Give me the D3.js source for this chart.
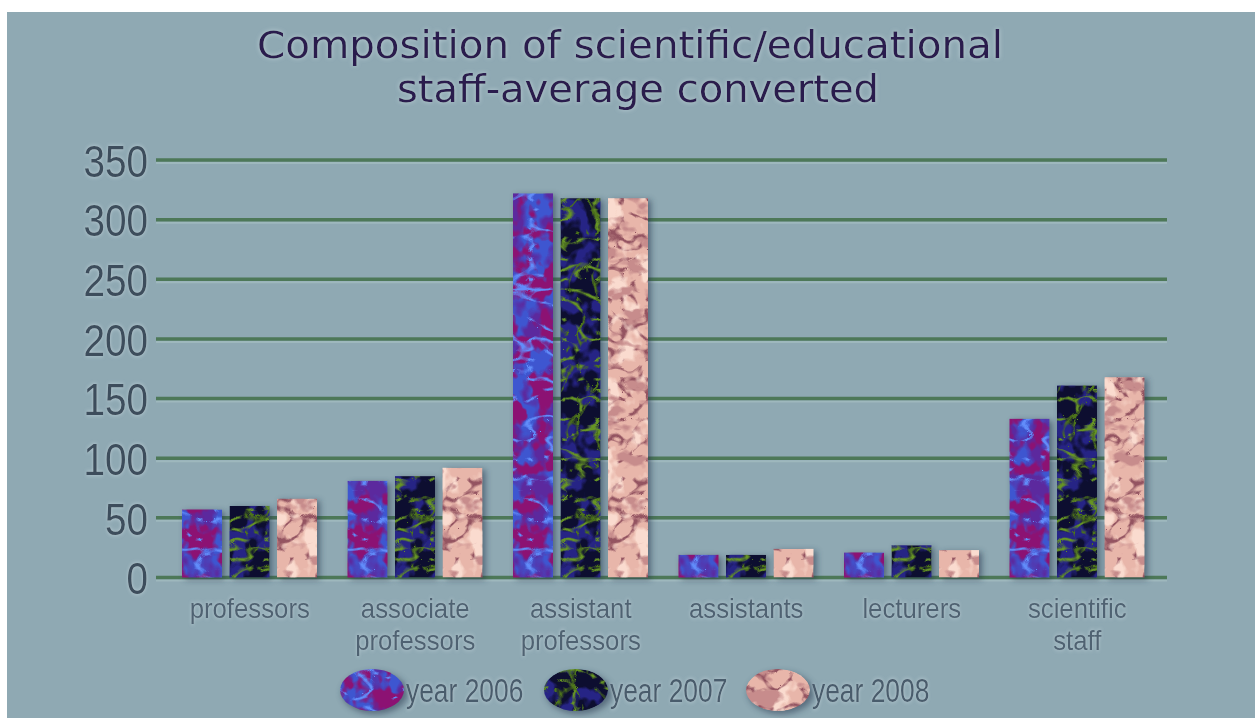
<!DOCTYPE html>
<html>
<head>
<meta charset="utf-8">
<script src="https://cdn.jsdelivr.net/npm/d3@7"></script>
<style>
  html, body { margin: 0; padding: 0; background: #ffffff; }
  svg { display: block; }
</style>
</head>
<body>
<svg id="chart" width="1255" height="718"></svg>
<script>
// ---- data ----
const categories = [["professors"], ["associate", "professors"], ["assistant", "professors"], ["assistants"], ["lecturers"], ["scientific", "staff"]];
const years = ["year 2006", "year 2007", "year 2008"];
const values2006 = [57, 81, 322, 19, 21, 133];
const values2007 = [60, 85, 318, 19, 27, 161];
const values2008 = [66, 92, 318, 24, 23, 168];
const yTicks = [0, 50, 100, 150, 200, 250, 300, 350];
const titleLines = ["Composition of scientific/educational", "staff-average converted"];

const series = [values2006, values2007, values2008];
const catKeys = categories.map(c => c.join(" "));
const NARROW = "Liberation Sans, Arial, sans-serif";

const svg = d3.select("#chart");
const W = 1255, H = 718;

// background
svg.append("rect").attr("x", 7).attr("y", 12).attr("width", W - 7).attr("height", H - 12).attr("fill", "#8fa9b3");

const defs = svg.append("defs");

// textures via turbulence filters
const textures = [
  { id: "tex0", base: "#3e56d0", layers: [
      { type: "fractalNoise", freq: "0.04 0.03", oct: 3, seed: 3, color: [0.36, 0.16, 0.62], k: 7, c: -3.2 },
      { type: "fractalNoise", freq: "0.05 0.04", oct: 3, seed: 8, color: [0.55, 0.07, 0.45], k: 9, c: -4.3 },
      { type: "turbulence", freq: "0.03 0.05", oct: 2, seed: 11, color: [0.38, 0.55, 0.98], k: -9, c: 1.3 }
  ]},
  { id: "tex1", base: "#0d0e30", layers: [
      { type: "fractalNoise", freq: "0.05 0.04", oct: 3, seed: 7, color: [0.15, 0.14, 0.52], k: 8, c: -3.7 },
      { type: "turbulence", freq: "0.03 0.05", oct: 2, seed: 5, color: [0.40, 0.58, 0.14], k: -9, c: 1.35 },
      { type: "turbulence", freq: "0.05 0.03", oct: 2, seed: 15, color: [0.30, 0.45, 0.10], k: -10, c: 1.15 }
  ]},
  { id: "tex2", base: "#e8b6aa", layers: [
      { type: "turbulence", freq: "0.04 0.05", oct: 2, seed: 9, color: [0.58, 0.33, 0.38], k: -8, c: 1.4 },
      { type: "fractalNoise", freq: "0.05 0.04", oct: 3, seed: 4, color: [0.98, 0.86, 0.81], k: 8, c: -4.2 },
      { type: "fractalNoise", freq: "0.04 0.06", oct: 3, seed: 21, color: [0.78, 0.55, 0.55], k: 8, c: -4.4 }
  ]}
];
textures.forEach(t => {
  const f = defs.append("filter").attr("id", t.id)
    .attr("x", 0).attr("y", 0).attr("width", 1).attr("height", 1)
    .attr("color-interpolation-filters", "sRGB");
  t.layers.forEach((l, i) => {
    f.append("feTurbulence").attr("type", l.type).attr("baseFrequency", l.freq)
      .attr("numOctaves", l.oct).attr("seed", l.seed).attr("result", "n" + i);
    f.append("feColorMatrix").attr("in", "n" + i).attr("type", "matrix")
      .attr("values", `0 0 0 0 ${l.color[0]} 0 0 0 0 ${l.color[1]} 0 0 0 0 ${l.color[2]} ${l.k} 0 0 0 ${l.c}`)
      .attr("result", "l" + i);
  });
  const m = f.append("feMerge").attr("result", "m");
  m.append("feMergeNode").attr("in", "SourceGraphic");
  t.layers.forEach((l, i) => m.append("feMergeNode").attr("in", "l" + i));
  f.append("feComposite").attr("in", "m").attr("in2", "SourceAlpha").attr("operator", "in");
});

defs.append("filter").attr("id", "shadow").attr("x", -0.5).attr("y", -0.5).attr("width", 2).attr("height", 2)
  .append("feGaussianBlur").attr("stdDeviation", 3);

const glow = defs.append("filter").attr("id", "glow").attr("x", -0.1).attr("y", -0.3).attr("width", 1.2).attr("height", 1.6);
glow.append("feGaussianBlur").attr("in", "SourceAlpha").attr("stdDeviation", 2).attr("result", "b");
glow.append("feFlood").attr("flood-color", "#d8e6ee").attr("flood-opacity", 0.6);
glow.append("feComposite").attr("in2", "b").attr("operator", "in").attr("result", "g");
const gm = glow.append("feMerge");
gm.append("feMergeNode").attr("in", "g");
gm.append("feMergeNode").attr("in", "SourceGraphic");

// scales
const y = d3.scaleLinear().domain([0, 350]).range([577.5, 160]);
const x0 = d3.scaleBand().domain(catKeys).range([167, 1160]).padding(0);
const x1 = d3.scaleBand().domain(years).range([15, 150]).paddingInner(0.158).paddingOuter(0);

// title
const title = svg.append("g").attr("filter", "url(#glow)");
title.append("text").attr("x", 630).attr("y", 58).attr("text-anchor", "middle")
  .attr("font-family", "DejaVu Sans, sans-serif").attr("font-size", 37).attr("fill", "#2c1d4e")
  .attr("textLength", 746).attr("lengthAdjust", "spacingAndGlyphs").text(titleLines[0]);
title.append("text").attr("x", 638).attr("y", 101.5).attr("text-anchor", "middle")
  .attr("font-family", "DejaVu Sans, sans-serif").attr("font-size", 37).attr("fill", "#2c1d4e")
  .attr("textLength", 482).attr("lengthAdjust", "spacingAndGlyphs").text(titleLines[1]);

// gridlines
const grid = svg.append("g");
grid.selectAll("line.hl").data(yTicks).join("line").attr("class", "hl")
  .attr("x1", 156).attr("x2", 1167).attr("y1", d => y(d) + 3).attr("y2", d => y(d) + 3)
  .attr("stroke", "#a9c2c4").attr("stroke-width", 2).attr("opacity", 0.6);
grid.selectAll("line.gl").data(yTicks).join("line").attr("class", "gl")
  .attr("x1", 156).attr("x2", 1167).attr("y1", d => y(d)).attr("y2", d => y(d))
  .attr("stroke", "#4d7858").attr("stroke-width", 3.5);

// y axis labels (condensed)
const yAxis = svg.append("g").attr("transform", "translate(148,0)")
  .call(d3.axisLeft(y).tickValues(yTicks).tickSize(0).tickPadding(0).tickFormat(d3.format("d")));
yAxis.select(".domain").remove();
yAxis.selectAll("text")
  .attr("font-family", NARROW)
  .attr("font-size", 45).attr("fill", "#3c4d5b").attr("dy", "0.36em").attr("x", 0)
  .attr("transform", "scale(0.86,1)")
  .attr("filter", "url(#glow)");

// bars
const groups = svg.append("g").selectAll("g").data(catKeys).join("g")
  .attr("transform", d => `translate(${x0(d)},0)`);
groups.each(function(cat, ci) {
  const g = d3.select(this);
  years.forEach((yr, si) => {
    const v = series[si][ci];
    g.append("rect").attr("x", x1(yr) + 3).attr("y", y(v) + 2)
      .attr("width", x1.bandwidth()).attr("height", y(0) - y(v))
      .attr("fill", "#23324a").attr("opacity", 0.55).attr("filter", "url(#shadow)");
  });
  years.forEach((yr, si) => {
    const v = series[si][ci];
    g.append("rect").attr("x", x1(yr)).attr("y", y(v))
      .attr("width", x1.bandwidth()).attr("height", y(0) - y(v))
      .attr("fill", textures[si].base).attr("filter", `url(#${textures[si].id})`);
  });
});

// category labels (condensed), one text per line
const catG = svg.append("g").selectAll("g").data(categories).join("g")
  .attr("transform", (d, i) => `translate(${x0(catKeys[i]) + x0.bandwidth() / 2},618)`);
catG.each(function(d) {
  const g = d3.select(this);
  d.forEach((line, li) => {
    g.append("text").attr("x", 0).attr("y", li * 32.5).attr("text-anchor", "middle")
      .attr("transform", "scale(0.92,1)")
      .attr("font-family", NARROW)
      .attr("font-size", 28).attr("fill", "#4f6272").attr("filter", "url(#glow)")
      .text(line);
  });
});

// legend
const legendX = [372, 576, 778];
const legend = svg.append("g").selectAll("g").data(years).join("g")
  .attr("transform", (d, i) => `translate(${legendX[i]},690)`);
legend.append("ellipse").attr("cx", 3).attr("cy", 3).attr("rx", 33).attr("ry", 21)
  .attr("fill", "#23324a").attr("opacity", 0.5).attr("filter", "url(#shadow)");
legend.append("ellipse").attr("rx", 32).attr("ry", 21)
  .attr("fill", (d, i) => textures[i].base).attr("filter", (d, i) => `url(#${textures[i].id})`);
legend.append("text").attr("x", 34 / 0.8).attr("y", 12)
  .attr("transform", "scale(0.8,1)")
  .attr("font-family", NARROW)
  .attr("font-size", 33).attr("fill", "#4a5c6c").attr("filter", "url(#glow)")
  .text(d => d);
</script>
</body>
</html>
